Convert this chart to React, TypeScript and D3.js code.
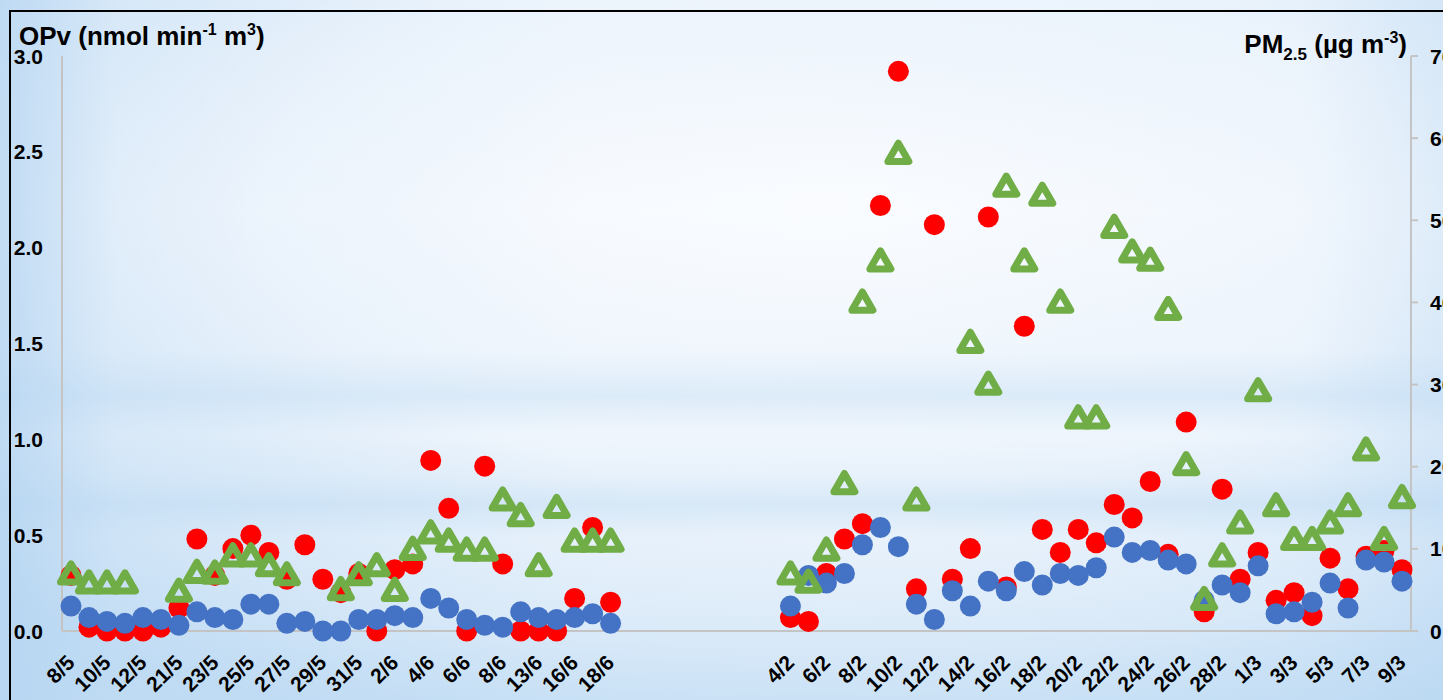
import { useEffect } from 'react';
import * as d3 from 'd3';

// Sample dates (summer campaign, then winter campaign), blank slots between them
const summerDates = ['8/5', '9/5', '10/5', '11/5', '12/5', '20/5', '21/5', '22/5', '23/5', '24/5', '25/5', '26/5', '27/5', '28/5', '29/5', '30/5', '31/5', '1/6', '2/6', '3/6', '4/6', '5/6', '6/6', '7/6', '8/6', '12/6', '13/6', '15/6', '16/6', '17/6', '18/6'];
const gapSlots = 9;
const winterDates = ['4/2', '5/2', '6/2', '7/2', '8/2', '9/2', '10/2', '11/2', '12/2', '13/2', '14/2', '15/2', '16/2', '17/2', '18/2', '19/2', '20/2', '21/2', '22/2', '23/2', '24/2', '25/2', '26/2', '27/2', '28/2', '29/2', '1/3', '2/3', '3/3', '4/3', '5/3', '6/3', '7/3', '8/3', '9/3'];

// OPv (left axis) - red series
const redSummer = [0.29, 0.02, 0.0, 0.0, 0.0, 0.02, 0.12, 0.48, 0.29, 0.43, 0.5, 0.41, 0.27, 0.45, 0.27, 0.2, 0.3, 0.0, 0.32, 0.35, 0.89, 0.64, 0.0, 0.86, 0.35, 0.0, 0.0, 0.0, 0.17, 0.54, 0.15];
const redWinter = [0.07, 0.05, 0.3, 0.48, 0.56, 2.22, 2.92, 0.22, 2.12, 0.27, 0.43, 2.16, 0.23, 1.59, 0.53, 0.41, 0.53, 0.46, 0.66, 0.59, 0.78, 0.4, 1.09, 0.1, 0.74, 0.27, 0.41, 0.16, 0.2, 0.08, 0.38, 0.22, 0.39, 0.42, 0.32];

// OPv (left axis) - blue series
const blueSummer = [0.13, 0.07, 0.05, 0.04, 0.07, 0.06, 0.03, 0.1, 0.07, 0.06, 0.14, 0.14, 0.04, 0.05, 0.0, 0.0, 0.06, 0.06, 0.08, 0.07, 0.17, 0.12, 0.06, 0.03, 0.02, 0.1, 0.07, 0.06, 0.07, 0.09, 0.04];
const blueWinter = [0.13, 0.29, 0.25, 0.3, 0.45, 0.54, 0.44, 0.14, 0.06, 0.21, 0.13, 0.26, 0.21, 0.31, 0.24, 0.3, 0.29, 0.33, 0.49, 0.41, 0.42, 0.37, 0.35, 0.16, 0.24, 0.2, 0.34, 0.09, 0.1, 0.15, 0.25, 0.12, 0.37, 0.36, 0.26];

// PM2.5 (right axis) - green triangles
const pmSummer = [6.7, 5.6, 5.6, 5.6, null, null, 4.6, 6.9, 6.8, 8.9, 8.9, 7.7, 6.6, null, null, 4.8, 6.6, 7.7, 4.7, 9.7, 11.7, 10.7, 9.6, 9.6, 15.7, 13.8, 7.7, 14.8, 10.7, 10.7, 10.7];
const pmWinter = [6.7, 5.7, 9.6, 17.7, 39.8, 44.8, 57.9, 15.7, null, null, 34.9, 29.8, 53.9, 44.8, 52.8, 39.8, 25.7, 25.7, 48.9, 45.9, 44.9, 38.9, 20.0, 3.6, 8.9, 12.9, 29.0, 15.0, 10.9, 10.9, 12.9, 15.0, 21.8, 10.9, 16.0];

const leftTicks = [0, 0.5, 1.0, 1.5, 2.0, 2.5, 3.0];
const rightTicks = [0, 10, 20, 30, 40, 50, 60, 70];

const gapNulls: (number | null)[] = Array(gapSlots).fill(null);
const categories = [...summerDates, ...Array(gapSlots).fill(''), ...winterDates];
const redValues: (number | null)[] = [...redSummer, ...gapNulls, ...redWinter];
const blueValues: (number | null)[] = [...blueSummer, ...gapNulls, ...blueWinter];
const pmValues: (number | null)[] = [...pmSummer, ...gapNulls, ...pmWinter];

const FONT = '"Liberation Sans", Arial, sans-serif';

export default function App() {
  useEffect(() => {
    document.body.style.margin = '0';
    document.body.style.overflow = 'hidden';
  }, []);

  const width = 1443;
  const height = 700;
  const plot = { left: 62, right: 1411, top: 56, bottom: 631 };

  const x = d3.scaleBand<number>()
    .domain(d3.range(categories.length))
    .range([plot.left, plot.right]);
  const cx = (i: number) => (x(i) ?? 0) + x.bandwidth() / 2;

  const yLeft = d3.scaleLinear().domain([0, 3]).range([plot.bottom, plot.top]);
  const yRight = d3.scaleLinear().domain([0, 70]).range([plot.bottom, plot.top]);

  const triangle = d3.symbol().type(d3.symbolTriangle).size(191)() as string;

  return (
    <svg width={width} height={height} style={{ display: 'block', fontFamily: FONT }}>
      <defs>
        <radialGradient id="bgRad" cx="0.58" cy="0.3" r="0.8">
          <stop offset="0" stopColor="#fafcff" />
          <stop offset="0.5" stopColor="#f2f7fd" />
          <stop offset="0.8" stopColor="#dcebf9" />
          <stop offset="1" stopColor="#c4def5" />
        </radialGradient>
        <linearGradient id="bands" x1="0" y1="0" x2="0" y2="1">
          <stop offset="0" stopColor="#b9d8f2" stopOpacity="0.12" />
          <stop offset="0.3" stopColor="#b9d8f2" stopOpacity="0" />
          <stop offset="0.5" stopColor="#b9d8f2" stopOpacity="0.08" />
          <stop offset="0.565" stopColor="#b9d8f2" stopOpacity="0.4" />
          <stop offset="0.62" stopColor="#b9d8f2" stopOpacity="0.05" />
          <stop offset="0.68" stopColor="#b9d8f2" stopOpacity="0.18" />
          <stop offset="0.72" stopColor="#b9d8f2" stopOpacity="0.45" />
          <stop offset="0.77" stopColor="#b9d8f2" stopOpacity="0.05" />
          <stop offset="0.88" stopColor="#b9d8f2" stopOpacity="0.08" />
          <stop offset="1" stopColor="#b9d8f2" stopOpacity="0.3" />
        </linearGradient>
        <linearGradient id="sideShade" x1="0" y1="0" x2="1" y2="0">
          <stop offset="0" stopColor="#b4d4f1" stopOpacity="0.7" />
          <stop offset="0.08" stopColor="#b4d4f1" stopOpacity="0.15" />
          <stop offset="0.4" stopColor="#b4d4f1" stopOpacity="0" />
          <stop offset="0.9" stopColor="#b4d4f1" stopOpacity="0.03" />
          <stop offset="1" stopColor="#b4d4f1" stopOpacity="0.3" />
        </linearGradient>
      </defs>

      {/* background */}
      <rect x={0} y={0} width={width} height={height} fill="url(#bgRad)" />
      <rect x={0} y={0} width={width} height={height} fill="url(#bands)" />
      <rect x={0} y={0} width={width} height={height} fill="url(#sideShade)" />

      {/* chart border (cropped) */}
      <line x1={10} y1={11} x2={width} y2={11} stroke="#000" strokeWidth={2} />
      <line x1={10} y1={10} x2={10} y2={height} stroke="#000" strokeWidth={2} />

      {/* axes */}
      <line x1={plot.left} y1={plot.top} x2={plot.left} y2={plot.bottom} stroke="#c4c4c4" strokeWidth={2} />
      <line x1={plot.right} y1={plot.top} x2={plot.right} y2={plot.bottom} stroke="#c4c4c4" strokeWidth={2} />
      <line x1={plot.left} y1={plot.bottom} x2={plot.right + 6} y2={plot.bottom} stroke="#c4c4c4" strokeWidth={2} />
      {rightTicks.map(t => (
        <line key={t} x1={plot.right} x2={plot.right + 7} y1={yRight(t)} y2={yRight(t)} stroke="#c4c4c4" strokeWidth={2} />
      ))}

      {/* left tick labels */}
      {leftTicks.map(t => (
        <text key={t} x={43} y={yLeft(t)} dy="0.36em" textAnchor="end" fontSize={21} fontWeight="bold" fill="#000">
          {t.toFixed(1)}
        </text>
      ))}
      {/* right tick labels */}
      {rightTicks.map(t => (
        <text key={t} x={1430} y={yRight(t)} dy="0.36em" textAnchor="start" fontSize={21} fontWeight="bold" fill="#000">
          {t}
        </text>
      ))}

      {/* x labels, every other date */}
      {categories.map((c, i) => (c !== '' && i % 2 === 0) ? (
        <text key={i} transform={`translate(${cx(i) + 5},${plot.bottom + 33}) rotate(-45)`} textAnchor="end"
          fontSize={21} fontWeight="bold" fill="#000">
          {c}
        </text>
      ) : null)}

      {/* axis titles */}
      <text x={19} y={45} fontSize={26} fontWeight="bold" fill="#000">
        OPv (nmol min<tspan fontSize={16} dy={-10}>-1</tspan><tspan dy={10}> m</tspan><tspan fontSize={16} dy={-10}>3</tspan><tspan dy={10}>)</tspan>
      </text>
      <text x={1407} y={53} fontSize={26} fontWeight="bold" fill="#000" textAnchor="end">
        PM<tspan fontSize={17} dy={7}>2.5</tspan><tspan dy={-7}> (µg m</tspan><tspan fontSize={16} dy={-10}>-3</tspan><tspan dy={10}>)</tspan>
      </text>

      {/* series: red, blue, green (drawn in that order) */}
      <g>
        {redValues.map((v, i) => v == null ? null : (
          <circle key={i} cx={cx(i)} cy={yLeft(v)} r={10.5} fill="#ff0000" />
        ))}
      </g>
      <g>
        {blueValues.map((v, i) => v == null ? null : (
          <circle key={i} cx={cx(i)} cy={yLeft(v)} r={10.5} fill="#4472c4" />
        ))}
      </g>
      <g>
        {pmValues.map((v, i) => v == null ? null : (
          <path key={i} d={triangle} transform={`translate(${cx(i)},${yRight(v)})`} fill="none"
            stroke="#70ad47" strokeWidth={7} strokeLinejoin="round" />
        ))}
      </g>
    </svg>
  );
}
